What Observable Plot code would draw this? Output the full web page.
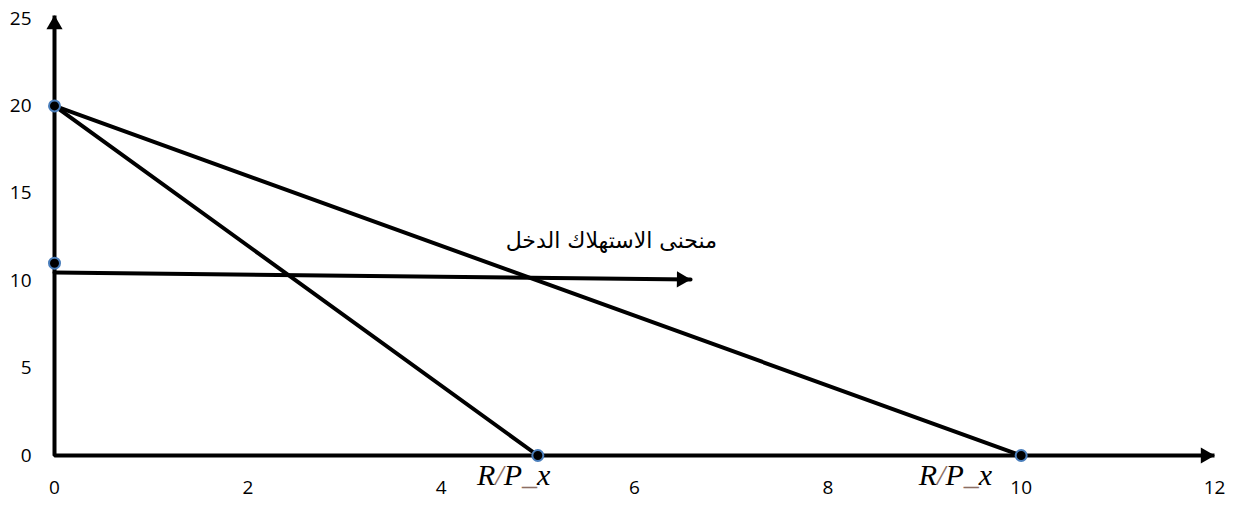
<!DOCTYPE html>
<html>
<head>
<meta charset="utf-8">
<script src="https://cdn.jsdelivr.net/npm/d3@7"></script>
<script src="https://cdn.jsdelivr.net/npm/@observablehq/plot@0.6"></script>
<style>
  html, body { margin: 0; padding: 0; background: #fff; }
</style>
</head>
<body>
<div id="chart"></div>
<script>
// Tick values
const xTicks = [0, 2, 4, 6, 8, 10, 12];
const yTicks = [0, 5, 10, 15, 20, 25];

// Axes (drawn as arrows, Excel style)
const axisX = [0, 0, 12];
const axisY = [25.17, 0, 0];

// Budget line 1: from (0,20) to (5,0)
const budget1X = [0, 5];
const budget1Y = [20, 0];

// Budget line 2: from (0,20) to (10,0)
const budget2X = [0, 10];
const budget2Y = [20, 0];

// Income-consumption curve (arrow)
const curveX = [0, 6.58];
const curveY = [10.47, 10.07];

// Marked points
const pointsX = [0, 0, 5, 10];
const pointsY = [20, 11, 0, 0];

// Arrow heads: tips of the three arrows
const headX = [12, 0, 6.58];
const headY = [0, 25.17, 10.07];
const headRotate = [90, 0, 90.6];
const headDx = [-9, 0, -9];
const headDy = [0, 9, 0];

// Labels
const curveLabel = "منحنى الاستهلاك الدخل";
const curveLabelX = [5.76];
const curveLabelY = [12.3];
const rpLabel = "R/P_x";
const rpLabelX = [4.75, 9.32];
const rpLabelY = [-1.15, -1.15];

const idx = (arr) => arr.map((_, i) => i);

const chart = Plot.plot({
  width: 1239,
  height: 505,
  marginLeft: 54,
  marginRight: 25,
  marginTop: 18,
  marginBottom: 50,
  style: { background: "#fff", fontFamily: "'Open Sans', sans-serif", fontSize: "19px", color: "#000" },
  x: { domain: [0, 12], label: null },
  y: { domain: [0, 25], label: null },
  marks: [
    Plot.axisX(xTicks, { tickSize: 0, tickPadding: 25, fontSize: 19, label: null }),
    Plot.axisY(yTicks, { tickSize: 0, tickPadding: 23, fontSize: 19, label: null }),
    Plot.line(idx(axisX), { x: i => axisX[i], y: i => axisY[i], stroke: "#000", strokeWidth: 4, strokeLinejoin: "miter", strokeLinecap: "butt" }),
    Plot.line(idx(budget1X), { x: i => budget1X[i], y: i => budget1Y[i], stroke: "#000", strokeWidth: 4 }),
    Plot.line(idx(budget2X), { x: i => budget2X[i], y: i => budget2Y[i], stroke: "#000", strokeWidth: 4 }),
    Plot.line(idx(curveX), { x: i => curveX[i], y: i => curveY[i], stroke: "#000", strokeWidth: 4 }),
    Plot.dot([0], { x: () => headX[0], y: () => headY[0], symbol: "triangle", r: 6, fill: "#000", stroke: "none", rotate: headRotate[0], dx: headDx[0], dy: headDy[0] }),
    Plot.dot([0], { x: () => headX[1], y: () => headY[1], symbol: "triangle", r: 6, fill: "#000", stroke: "none", rotate: headRotate[1], dx: headDx[1], dy: headDy[1] }),
    Plot.dot([0], { x: () => headX[2], y: () => headY[2], symbol: "triangle", r: 6, fill: "#000", stroke: "none", rotate: headRotate[2], dx: headDx[2], dy: headDy[2] }),
    Plot.dot(idx(pointsX), { x: i => pointsX[i], y: i => pointsY[i], r: 5.5, fill: "#000", stroke: "#4a7ebb", strokeWidth: 2 }),
    Plot.text([curveLabel], { x: () => curveLabelX[0], y: () => curveLabelY[0], text: d => d, fontSize: 22, fontFamily: "'DejaVu Sans', sans-serif", fill: "#000", textAnchor: "middle" }),
    Plot.text(idx(rpLabelX), { x: i => rpLabelX[i], y: i => rpLabelY[i], text: () => rpLabel, fontSize: 30, fontFamily: "'Liberation Serif', 'DejaVu Serif', serif", fontStyle: "italic", fill: "#000", textAnchor: "middle" })
  ]
});

// tick labels: Excel-like size and colour
d3.select(chart).selectAll("g[aria-label*='tick label'] text")
  .style("font-size", "19px")
  .style("font-family", "'Open Sans', sans-serif")
  .style("fill", "#000");

// colour the slash and underscore like the reference (math-style label)
d3.select(chart).selectAll("text").filter(function () { return this.textContent === rpLabel; })
  .each(function () {
    const t = d3.select(this);
    t.text(null);
    const parts = [["R", "#000"], ["/", "#8c6e63"], ["P", "#000"], ["_", "#8c6e63"], ["x", "#000"]];
    parts.forEach(([s, c]) => t.append("tspan").attr("fill", c).text(s));
  });

document.getElementById("chart").appendChild(chart);
</script>
</body>
</html>
